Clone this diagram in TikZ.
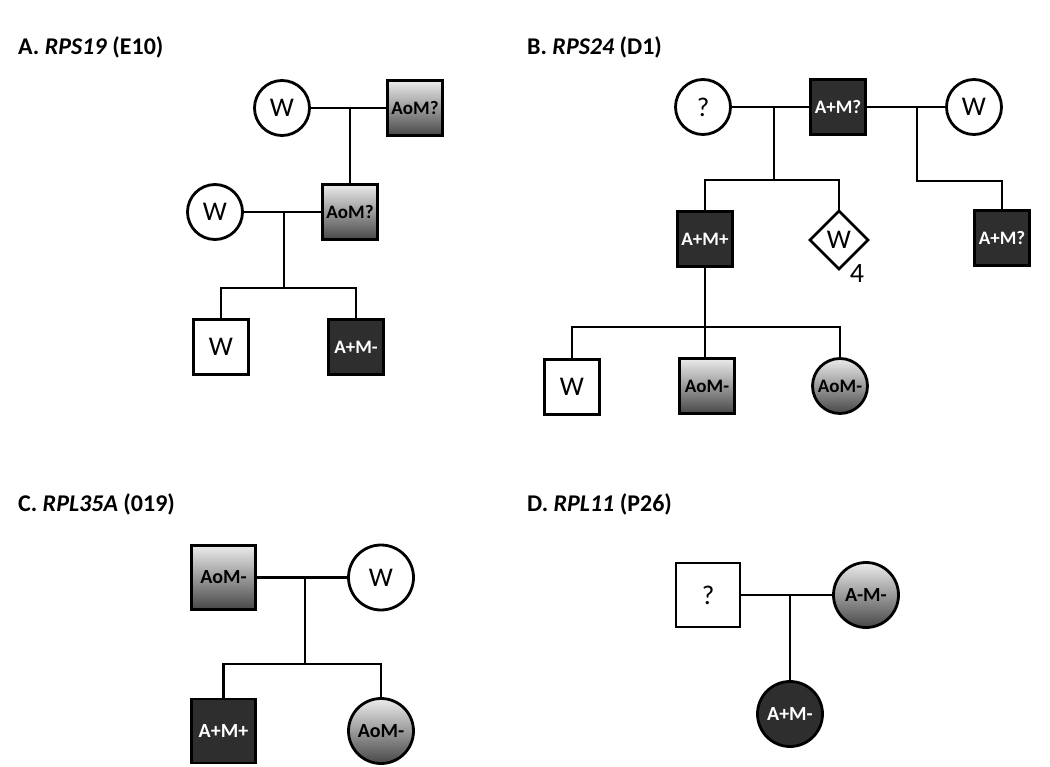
\documentclass[tikz,border=0pt]{standalone}
\usepackage{fontspec}
\setmainfont{Carlito}
\usetikzlibrary{shapes.geometric}
\definecolor{darkfill}{HTML}{2E2E2E}
\tikzset{
  lnk/.style={line width=2.6pt, line join=miter},
  base/.style={draw, line width=2.8pt, inner sep=0pt, outer sep=0pt},
  sq/.style={base, rectangle, minimum size=55pt},
  sqL/.style={base, rectangle, minimum size=64pt},
  ci/.style={base, circle, minimum size=55pt},
  ciL/.style={base, circle, minimum size=65pt},
  dia/.style={base, diamond, aspect=1, minimum size=58pt},
  plain/.style={fill=white, font=\fontsize{27}{29}\selectfont},
  dark/.style={fill=darkfill, text=white, font=\fontsize{19}{21}\selectfont\bfseries},
  darkL/.style={fill=darkfill, text=white, font=\fontsize{20}{22}\selectfont\bfseries},
  grad/.style={top color=gray!15, bottom color=black!72, font=\fontsize{19}{21}\selectfont\bfseries},
  gradL/.style={top color=gray!15, bottom color=black!72, font=\fontsize{20}{22}\selectfont\bfseries},
  ttl/.style={anchor=base west, inner sep=0pt, font=\fontsize{24}{26}\selectfont\bfseries},
  lbl/.style={inner sep=0pt, font=\fontsize{28}{30}\selectfont}
}
\begin{document}
\begin{tikzpicture}[x=1pt,y=-1pt]
\useasboundingbox (0,0) rectangle (1050,767);
% titles
\node[ttl] (tA) at (18,55) {A. \textit{RPS19} (E10)};
\node[ttl] (tB) at (527,55) {B. \textit{RPS24} (D1)};
\node[ttl] (tC) at (18,511) {C. \textit{RPL35A} (019)};
\node[ttl] (tD) at (527,511) {D. \textit{RPL11} (P26)};

% ---------- Panel A ----------
\node[ci, plain] (Aw1) at (282,108) {W};
\node[sq, grad] (As1) at (415,108) {AoM?};
\node[sq, grad] (As2) at (350,212) {AoM?};
\node[ci, plain] (Aw2) at (215,212) {W};
\node[sq, plain] (Ac1) at (221,347) {W};
\node[sq, dark] (Ac2) at (356,347) {A+M-};
\coordinate (Am2) at (284,212);
\coordinate (Asib) at (284,288);
\draw[lnk] (Aw1) -- (As1);
\draw[lnk] (As2.north) -- (As2.north |- As1);
\draw[lnk] (Aw2) -- (As2);
\draw[lnk] (Am2) -- (Asib);
\draw[lnk] (Ac1.north) |- (Asib) -| (Ac2.north);

% ---------- Panel B ----------
\node[ci, plain] (Bq) at (703,107) {?};
\node[sq, dark] (Bs) at (838,107) {A+M?};
\node[ci, plain] (Bw) at (974,107) {W};
\node[sq, dark] (Bc1) at (705,239) {A+M+};
\node[dia, plain] (Bd) at (839,240) {W};
\node[lbl] (Bn) at (857,274) {4};
\node[sq, dark] (Br) at (1002,238) {A+M?};
\node[sq, plain] (Bg1) at (572,387) {W};
\node[sq, grad] (Bg2) at (707,386) {AoM-};
\node[ci, grad] (Bg3) at (840,386) {AoM-};
\coordinate (Bm1) at (774,107);
\coordinate (Bsib1) at (774,180);
\coordinate (Bm2) at (917,107);
\coordinate (Bsib2) at (917,181);
\coordinate (Bsib3) at (705,327);
\draw[lnk] (Bq) -- (Bs);
\draw[lnk] (Bs) -- (Bw);
\draw[lnk] (Bm1) -- (Bsib1);
\draw[lnk] (Bc1.north) |- (Bsib1) -| (Bd.north);
\draw[lnk] (Bm2) -- (Bsib2) -| (Br.north);
\draw[lnk] (Bc1.south) -- (Bsib3);
\draw[lnk] (Bg1.north) |- (Bsib3) -| (Bg3.north);
\draw[lnk] (Bsib3) -- (Bg2.north -| Bsib3);

% ---------- Panel C ----------
\node[sqL, gradL] (Cs) at (223.5,577.5) {AoM-};
\node[ciL, plain] (Cw) at (381,577.5) {W};
\node[sqL, darkL] (Cc1) at (223.5,731) {A+M+};
\node[ciL, gradL] (Cc2) at (381,731) {AoM-};
\coordinate (Cm) at (305,577.5);
\coordinate (Csib) at (305,664);
\draw[lnk] (Cs) -- (Cw);
\draw[lnk] (Cm) -- (Csib);
\draw[lnk] (Cc1.north) |- (Csib) -| (Cc2.north);

% ---------- Panel D ----------
\node[sqL, plain] (Dq) at (708,595) {?};
\node[ciL, gradL] (Df) at (866,595) {A-M-};
\node[ciL, darkL] (Dc) at (790,714) {A+M-};
\coordinate (Dm) at (790,595);
\draw[lnk] (Dq) -- (Df);
\draw[lnk] (Dm) -- (Dc.north);
\end{tikzpicture}
\end{document}
